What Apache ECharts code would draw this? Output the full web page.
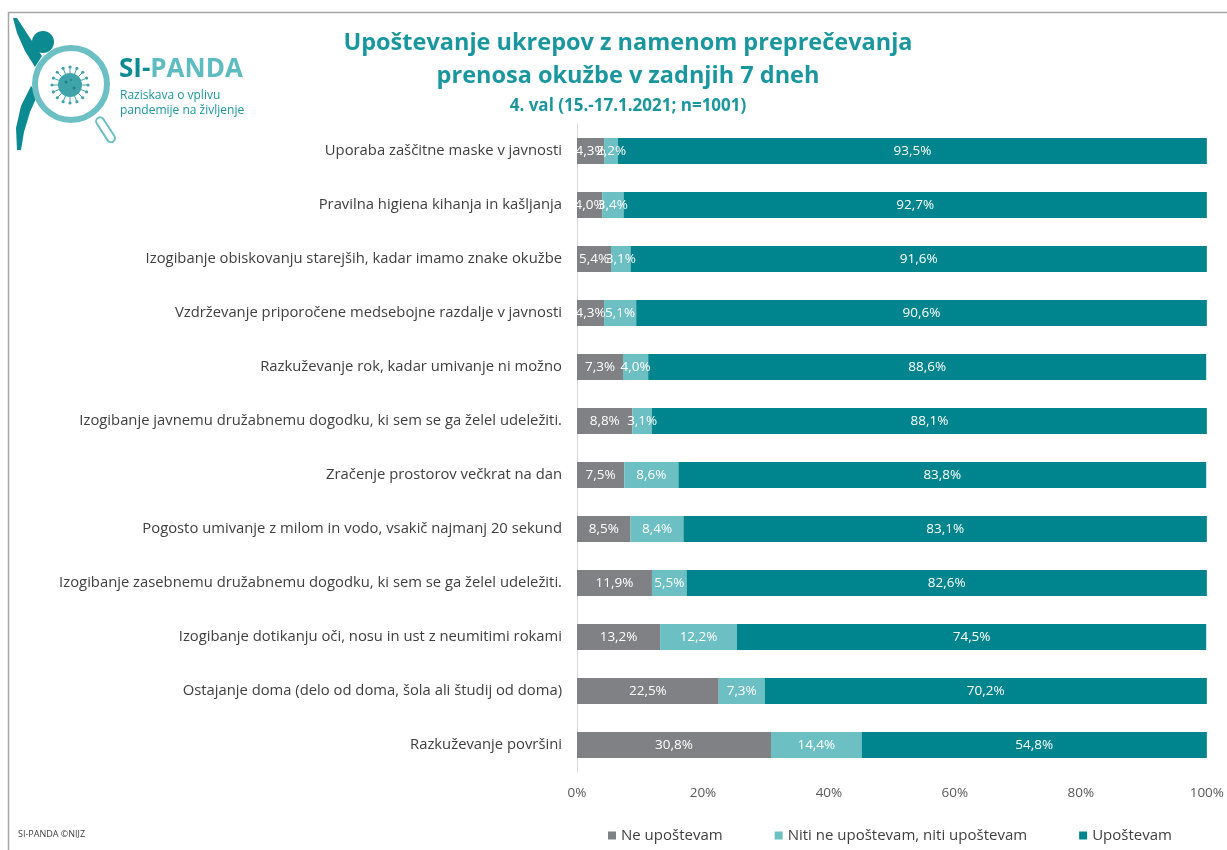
<!DOCTYPE html>
<html>
<head>
<meta charset="utf-8">
<script src="https://cdn.jsdelivr.net/npm/echarts@6/dist/echarts.min.js"></script>
<style>html,body{margin:0;padding:0;background:#fff;}#c{width:1227px;height:850px;}</style>
</head>
<body>
<div id="c"></div>
<script>
const categories = [
  'Uporaba zaščitne maske v javnosti',
  'Pravilna higiena kihanja in kašljanja',
  'Izogibanje obiskovanju starejših, kadar imamo znake okužbe',
  'Vzdrževanje priporočene medsebojne razdalje v javnosti',
  'Razkuževanje rok, kadar umivanje ni možno',
  'Izogibanje javnemu družabnemu dogodku, ki sem se ga želel udeležiti.',
  'Zračenje prostorov večkrat na dan',
  'Pogosto umivanje z milom in vodo, vsakič najmanj 20 sekund',
  'Izogibanje zasebnemu družabnemu dogodku, ki sem se ga želel udeležiti.',
  'Izogibanje dotikanju oči, nosu in ust z neumitimi rokami',
  'Ostajanje doma (delo od doma, šola ali študij od doma)',
  'Razkuževanje površini'
];
const seriesNames = ['Ne upoštevam', 'Niti ne upoštevam, niti upoštevam', 'Upoštevam'];
const neUpostevam = [4.3, 4.0, 5.4, 4.3, 7.3, 8.8, 7.5, 8.5, 11.9, 13.2, 22.5, 30.8];
const niti = [2.2, 3.4, 3.1, 5.1, 4.0, 3.1, 8.6, 8.4, 5.5, 12.2, 7.3, 14.4];
const upostevam = [93.5, 92.7, 91.6, 90.6, 88.6, 88.1, 83.8, 83.1, 82.6, 74.5, 70.2, 54.8];
const xTicks = [0, 20, 40, 60, 80, 100];

const colors = ['#808184', '#6cbfc3', '#00858f'];
const fmt = v => v.toFixed(1).replace('.', ',') + '%';

function mkSeries(name, data, color) {
  return {
    name: name, type: 'bar', stack: 'total', data: data, barWidth: 26,
    itemStyle: { color: color },
    label: { show: true, position: 'inside', color: '#ffffff', fontSize: 13.5,
      fontFamily: 'Open Sans', formatter: p => fmt(p.value) },
    emphasis: { disabled: true }
  };
}

// virus dots
const virusDots = [];
for (let i = 0; i < 16; i++) {
  const a = i / 16 * Math.PI * 2;
  virusDots.push({ type: 'circle', shape: { cx: 70 + Math.cos(a) * 18, cy: 85 + Math.sin(a) * 18, r: 1.6 },
    style: { fill: '#3fa3aa' } });
  virusDots.push({ type: 'line', shape: { x1: 70 + Math.cos(a) * 12, y1: 85 + Math.sin(a) * 12, x2: 70 + Math.cos(a) * 17, y2: 85 + Math.sin(a) * 17 },
    style: { stroke: '#3fa3aa', lineWidth: 1 } });
}

const chart = echarts.init(document.getElementById('c'));
chart.setOption({
  backgroundColor: '#ffffff',
  animation: false,
  title: [{
    text: 'Upoštevanje ukrepov z namenom preprečevanja\nprenosa okužbe v zadnjih 7 dneh',
    left: 623, top: 22, textAlign: 'center',
    textStyle: { color: '#1a979e', fontFamily: 'Open Sans', fontWeight: 'bold', fontSize: 23.5, lineHeight: 33 }
  }, {
    text: '4. val (15.-17.1.2021; n=1001)',
    left: 623, top: 93, textAlign: 'center',
    textStyle: { color: '#1a979e', fontFamily: 'Open Sans', fontWeight: 'bold', fontSize: 17 }
  }],
  legend: {
    data: seriesNames, left: 603, top: 823, icon: 'rect', itemWidth: 8, itemHeight: 8, itemGap: 52,
    textStyle: { color: '#404040', fontSize: 15, fontFamily: 'Open Sans' }
  },
  grid: { left: 577, right: 18, top: 124, bottom: 78, containLabel: false },
  xAxis: {
    type: 'value', min: 0, max: 100, interval: 20,
    axisLabel: { formatter: v => xTicks.includes(v) ? v + '%' : '', color: '#595959', fontSize: 13.5, fontFamily: 'Open Sans', margin: 14 },
    axisLine: { show: false }, axisTick: { show: false }, splitLine: { show: false }
  },
  yAxis: {
    type: 'category', data: categories, inverse: true,
    axisLabel: { color: '#404040', fontSize: 14.8, fontFamily: 'Open Sans', margin: 15 },
    axisLine: { show: true, lineStyle: { color: '#d9d9d9' } }, axisTick: { show: false }
  },
  series: [
    mkSeries(seriesNames[0], neUpostevam, colors[0]),
    mkSeries(seriesNames[1], niti, colors[1]),
    mkSeries(seriesNames[2], upostevam, colors[2])
  ],
  graphic: [
    { type: 'line', shape: { x1: 8, y1: 12.5, x2: 1227, y2: 12.5 }, style: { stroke: '#a6a6a6', lineWidth: 1.5 } },
    { type: 'line', shape: { x1: 8.5, y1: 12, x2: 8.5, y2: 850 }, style: { stroke: '#a6a6a6', lineWidth: 1.5 } },
    // logo: arm
    { type: 'polygon', shape: { points: [[13, 18], [17, 18], [28, 35], [42, 56], [35, 67], [25, 51], [17, 33]] }, style: { fill: '#0b8a91' } },
    // head
    { type: 'circle', shape: { cx: 43, cy: 42, r: 11 }, style: { fill: '#0b8a91' } },
    // body / leg
    { type: 'polygon', shape: { points: [[31, 86], [38, 94], [30, 112], [24, 132], [21, 150], [17, 150], [16, 128], [21, 106]] }, style: { fill: '#0b8a91' } },
    // handle
    { type: 'rect', shape: { x: -4, y: 0, width: 8, height: 28, r: 4 }, x: 98, y: 118, rotation: Math.PI / 5.5,
      style: { fill: '#ffffff', stroke: '#6cbfc3', lineWidth: 2 } },
    // ring
    { type: 'circle', shape: { cx: 71, cy: 84, r: 36 }, style: { fill: 'none', stroke: '#6cbfc3', lineWidth: 6 } },
    // virus
    ...virusDots,
    { type: 'circle', shape: { cx: 70, cy: 85, r: 12 }, style: { fill: '#3fa3aa' } },
    { type: 'circle', shape: { cx: 66, cy: 82, r: 1.5 }, style: { fill: '#1d7f86' } },
    { type: 'circle', shape: { cx: 74, cy: 88, r: 1.5 }, style: { fill: '#1d7f86' } },
    { type: 'circle', shape: { cx: 71, cy: 80, r: 1 }, style: { fill: '#1d7f86' } },
    { type: 'text', x: 119, y: 57, style: {
        text: '{a|SI-}{b|PANDA}',
        rich: { a: { fill: '#0b8a91', fontSize: 26, fontWeight: 'bold', fontFamily: 'Open Sans' },
                b: { fill: '#5cbcc0', fontSize: 26, fontWeight: 'bold', fontFamily: 'Open Sans' } } } },
    { type: 'text', x: 120, y: 88, style: { text: 'Raziskava o vplivu\npandemije na življenje', fill: '#1a979e', fontSize: 12, lineHeight: 15, fontFamily: 'Open Sans' } },
    { type: 'text', x: 18, y: 830, style: { text: 'SI-PANDA ©NIJZ', fill: '#404040', fontSize: 9, fontFamily: 'Open Sans' } }
  ]
});
</script>
</body>
</html>
